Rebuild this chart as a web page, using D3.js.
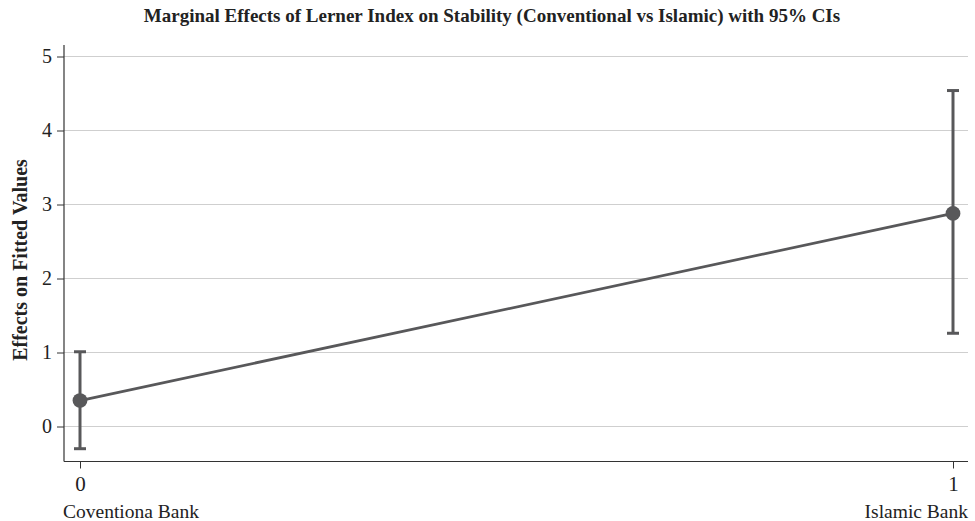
<!DOCTYPE html>
<html><head><meta charset="utf-8">
<script src="https://cdn.jsdelivr.net/npm/d3@7"></script>
<style>body{margin:0;background:#fff}svg{display:block}text{font-family:"Liberation Serif","DejaVu Serif",serif;fill:#222}</style>
</head><body><svg id="c" width="975" height="521"></svg>
<script>
const xValues = [0, 1];
const categories = ["Coventiona Bank", "Islamic Bank"];
const estimates = [0.35, 2.88];
const lower = [-0.30, 1.26];
const upper = [1.01, 4.54];
const yTicks = [0, 1, 2, 3, 4, 5];

const svg = d3.select("#c");
const x = d3.scaleLinear().domain([0, 1]).range([80, 953]);
const y = d3.scaleLinear().domain([0, 5]).range([426.5, 56.5]);
const col = "#58585a";

svg.append("text").attr("x", 492).attr("y", 22).attr("text-anchor", "middle")
  .attr("font-weight", "bold").attr("font-size", 19).text("Marginal Effects of Lerner Index on Stability (Conventional vs Islamic) with 95% CIs");

// gridlines
svg.append("g").selectAll("line").data(yTicks).join("line")
  .attr("x1", 64).attr("x2", 968).attr("y1", d => y(d)).attr("y2", d => y(d))
  .attr("stroke", "#cfcfcf").attr("stroke-width", 1.2);

// y axis
const ya = svg.append("g").attr("transform", "translate(64,0)")
  .call(d3.axisLeft(y).tickValues(yTicks).tickSize(7).tickPadding(5).tickFormat(d3.format("d")));
ya.select(".domain").attr("d", `M0,${45}V${461.5}`).attr("stroke", "#333").attr("stroke-width", 1.2);
ya.selectAll(".tick line").attr("stroke", "#333");
ya.selectAll(".tick text").attr("font-size", 20).attr("font-family", "Liberation Serif").attr("fill", "#222");

// x axis
const xa = svg.append("g").attr("transform", "translate(0,461.5)")
  .call(d3.axisBottom(x).tickValues(xValues).tickSize(7).tickPadding(8).tickFormat(d3.format("d")));
xa.select(".domain").attr("d", "M64,0H968").attr("stroke", "#333").attr("stroke-width", 1.2);
xa.selectAll(".tick line").attr("stroke", "#333");
xa.selectAll(".tick text").attr("font-size", 21).attr("font-family", "Liberation Serif").attr("fill", "#222");

// category labels
svg.append("g").selectAll("text").data(xValues).join("text")
  .attr("x", (d, i) => i === 0 ? 63 : 968).attr("y", 518).attr("font-size", 19.5)
  .attr("text-anchor", (d, i) => i === 0 ? "start" : "end")
  .text((d, i) => categories[i]);

// y title
svg.append("text").attr("transform", "translate(27,260) rotate(-90)").attr("text-anchor", "middle")
  .attr("font-weight", "bold").attr("font-size", 20).text("Effects on Fitted Values");

// error bars
const eb = svg.append("g").attr("stroke", col).attr("stroke-width", 3);
xValues.forEach((v, i) => {
  eb.append("line").attr("x1", x(v)).attr("x2", x(v)).attr("y1", y(lower[i])).attr("y2", y(upper[i]));
  eb.append("line").attr("x1", x(v) - 6).attr("x2", x(v) + 6).attr("y1", y(lower[i])).attr("y2", y(lower[i]));
  eb.append("line").attr("x1", x(v) - 6).attr("x2", x(v) + 6).attr("y1", y(upper[i])).attr("y2", y(upper[i]));
});

// line
svg.append("path").datum(xValues.map((v, i) => [v, estimates[i]]))
  .attr("d", d3.line().x(d => x(d[0])).y(d => y(d[1])))
  .attr("fill", "none").attr("stroke", col).attr("stroke-width", 2.8);

// points
svg.append("g").selectAll("circle").data(xValues).join("circle")
  .attr("cx", d => x(d)).attr("cy", (d, i) => y(estimates[i])).attr("r", 7.4).attr("fill", col);
</script></body></html>
